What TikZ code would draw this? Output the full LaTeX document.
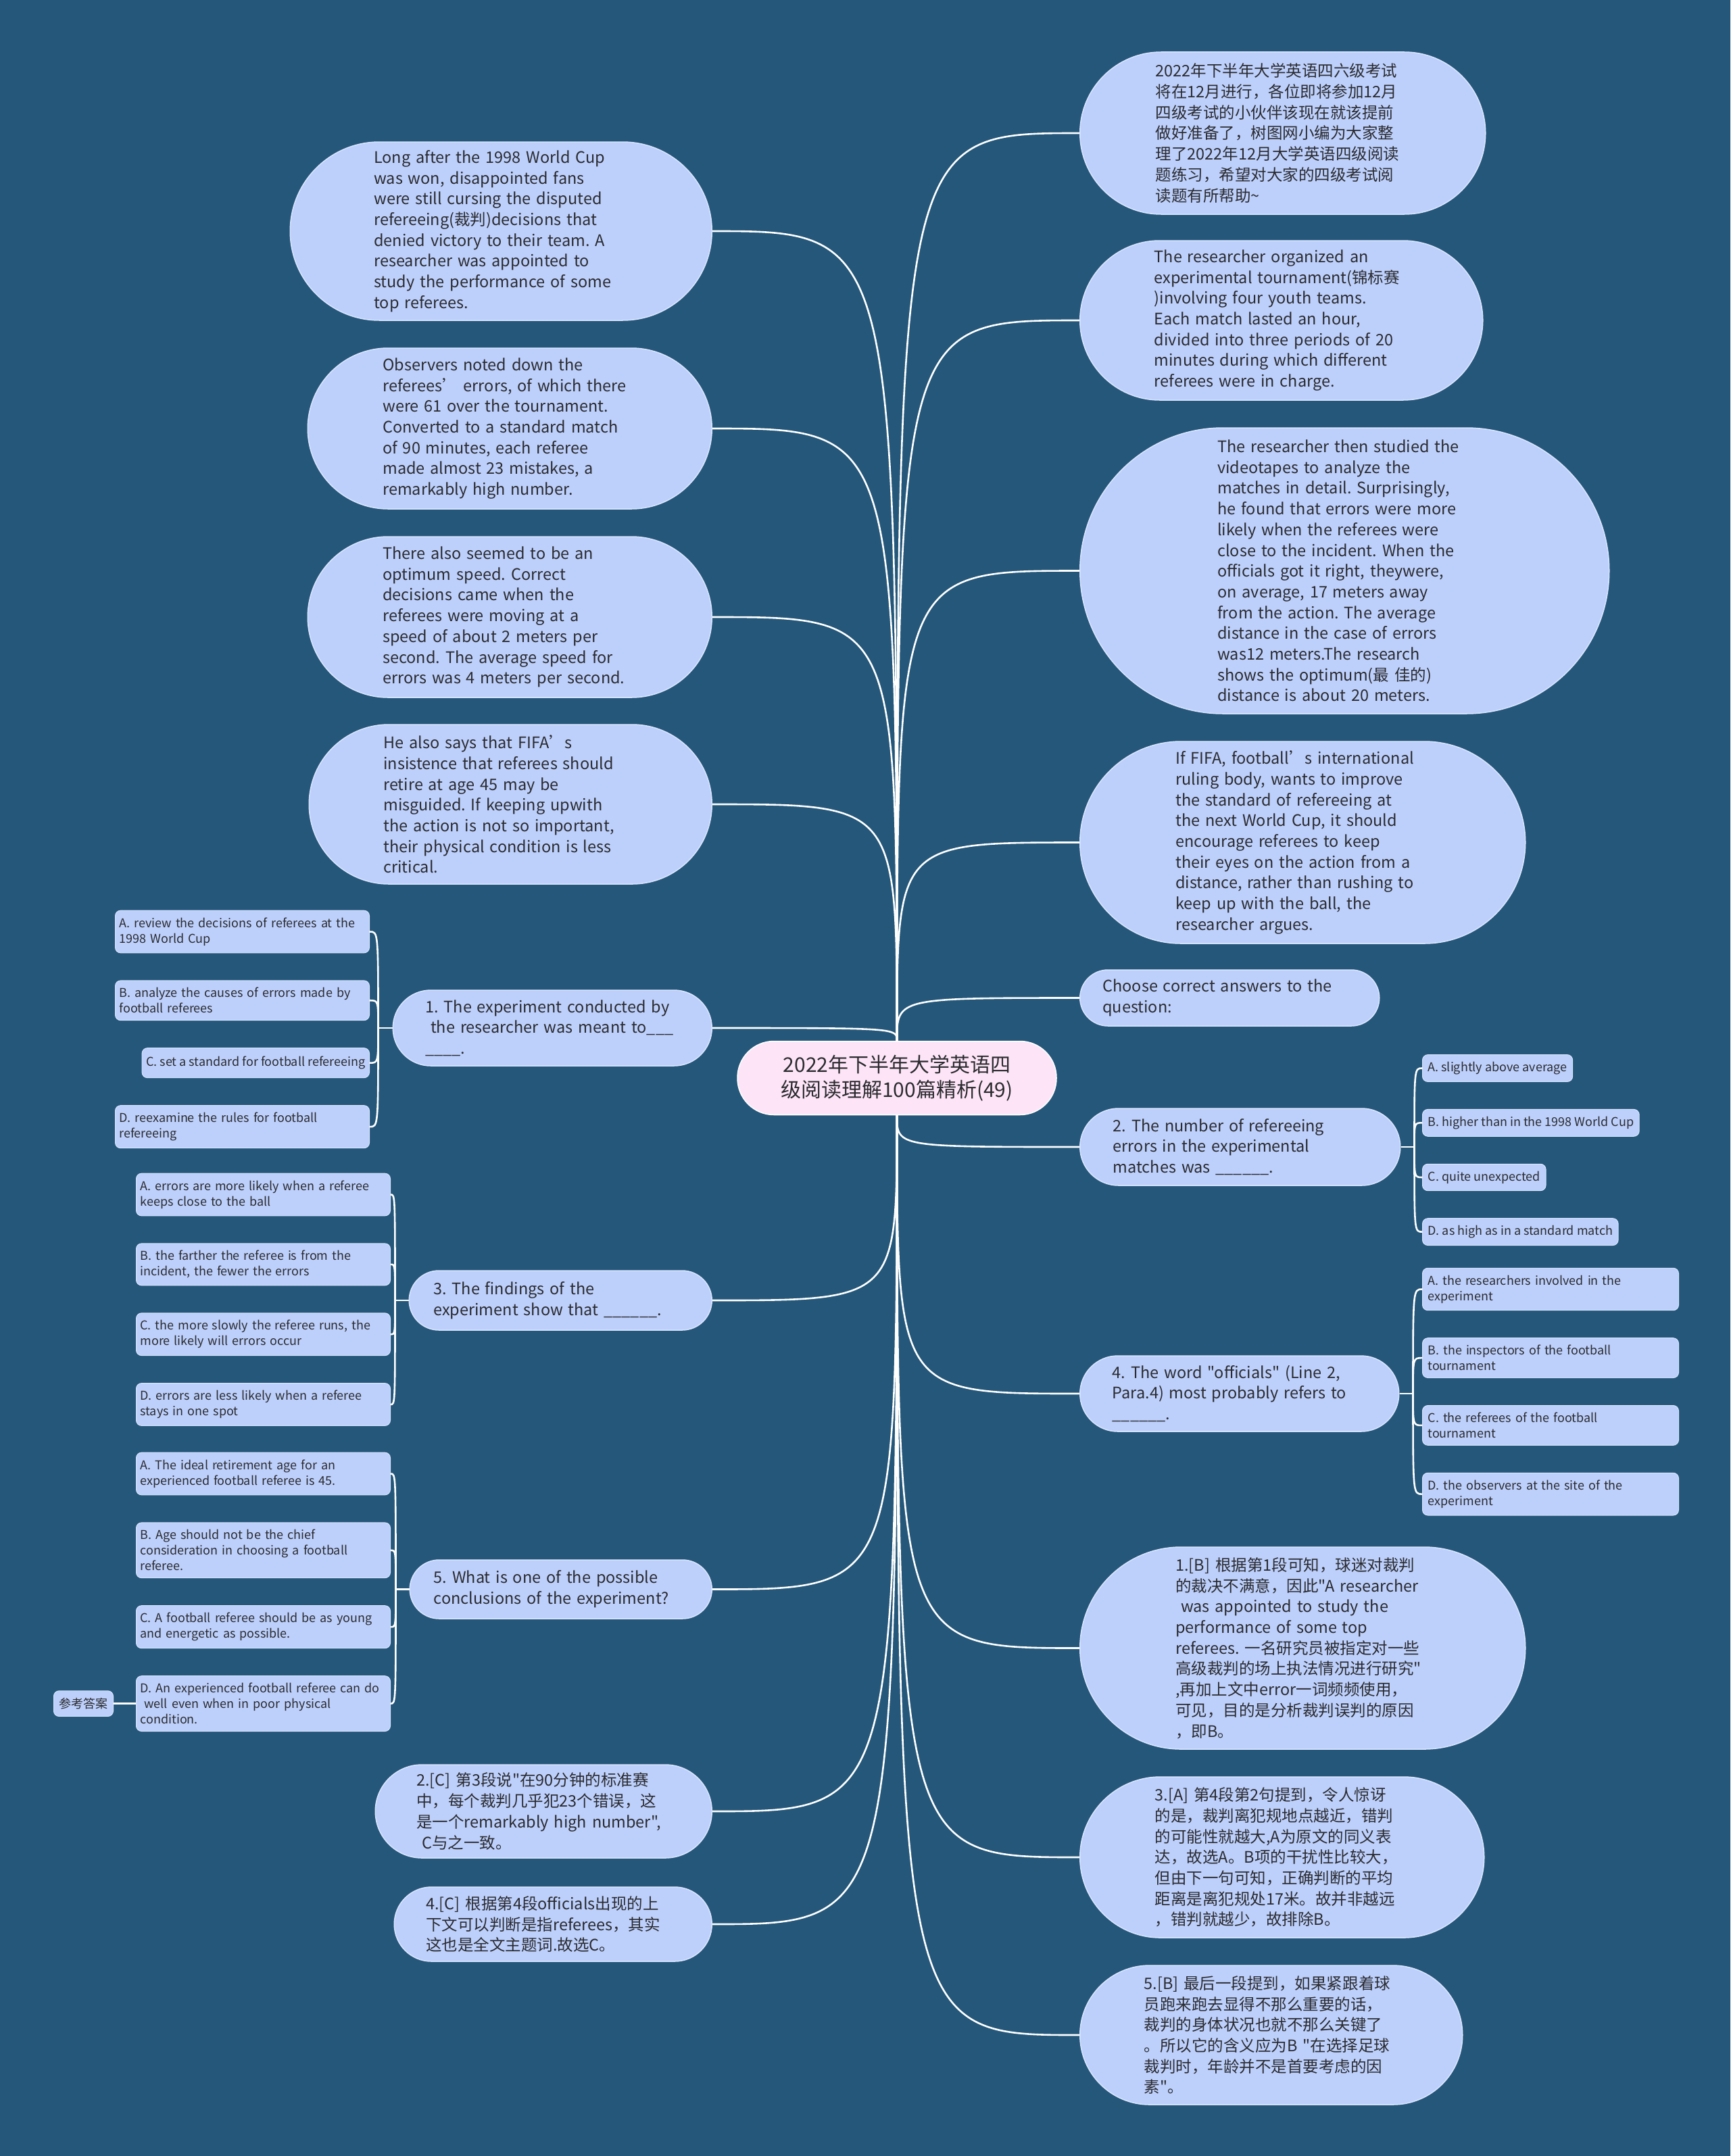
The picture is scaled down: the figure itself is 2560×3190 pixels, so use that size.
\documentclass[tikz,border=0pt]{standalone}
\usepackage{fontspec}
\setmainfont[Ligatures=TeXOff]{Noto Sans CJK SC}
\usetikzlibrary{positioning}
\definecolor{MapBlue}{RGB}{36,87,122}
\definecolor{BubBlue}{RGB}{189,208,251}
\definecolor{RootPink}{RGB}{253,229,247}
\definecolor{InkGray}{RGB}{43,43,48}
\pgfdeclarelayer{backdrop}
\pgfdeclarelayer{wires}
\pgfsetlayers{backdrop,wires,main}
\frenchspacing

\begin{document}
\begin{tikzpicture}[x=1pt,y=-1pt,
node distance=40pt,
root/.style={draw=white,line width=1.5pt,fill=RootPink,rounded corners=54pt,minimum width=472pt,minimum height=109pt,inner sep=0pt,align=center,text=InkGray,font=\fontsize{30pt}{37pt}\selectfont},
bub/.style={draw=white!45!BubBlue,line width=1.5pt,fill=BubBlue,rounded corners=#1,minimum height=2*#1,inner xsep=#1-8,inner ysep=0pt,text width=376pt,align=left,text=InkGray,font=\fontsize{23.5pt}{30.7pt}\selectfont},
opt/.style={draw=white!45!BubBlue,line width=1pt,fill=BubBlue,rounded corners=8pt,inner xsep=6pt,inner ysep=10.5pt,align=left,text=InkGray,font=\fontsize{18pt}{23pt}\selectfont},
link/.style={draw=white,line width=2.6pt}
]
\begin{pgfonlayer}{backdrop}
\fill[MapBlue] (0,0) rectangle (2560,3190);
\end{pgfonlayer}

% centre
\node[root] (root) at (1327,1595) {2022年下半年大学英语四\\级阅读理解100篇精析(49)};

% left side
\node[bub=132,anchor=east] (l1) at (1054,342) {Long after the 1998 World Cup\\was won, disappointed fans\\were still cursing the disputed\\refereeing(裁判)decisions that\\denied victory to their team. A\\researcher was appointed to\\study the performance of some\\top referees.};
\node[bub=119,anchor=east] (l2) at (1054,634) {Observers noted down the\\referees’ errors, of which there\\were 61 over the tournament.\\Converted to a standard match\\of 90 minutes, each referee\\made almost 23 mistakes, a\\remarkably high number.};
\node[bub=119,anchor=east] (l3) at (1054,913) {There also seemed to be an\\optimum speed. Correct\\decisions came when the\\referees were moving at a\\speed of about 2 meters per\\second. The average speed for\\errors was 4 meters per second.};
\node[bub=118,anchor=east] (l4) at (1054,1190) {He also says that FIFA’s\\insistence that referees should\\retire at age 45 may be\\misguided. If keeping upwith\\the action is not so important,\\their physical condition is less\\critical.};
\node[bub=56,anchor=east] (q1) at (1054,1521) {1. The experiment conducted by\\\ the researcher was meant to\_\_\_\\\_\_\_\_.};
\node[bub=44,anchor=east] (q3) at (1054,1924) {3. The findings of the\\experiment show that \_\_\_\_\_\_.};
\node[bub=43.5,anchor=east] (q5) at (1054,2351.5) {5. What is one of the possible\\conclusions of the experiment?};
\node[bub=69,anchor=east] (a2) at (1054,2680) {2.[C] 第3段说"在90分钟的标准赛\\中，每个裁判几乎犯23个错误，这\\是一个remarkably high number",\\\ C与之一致。};
\node[bub=55,anchor=east] (a4) at (1054,2847) {4.[C] 根据第4段officials出现的上\\下文可以判断是指referees，其实\\这也是全文主题词.故选C。};

% right side
\node[bub=120,anchor=west] (r1) at (1597,197) {2022年下半年大学英语四六级考试\\将在12月进行，各位即将参加12月\\四级考试的小伙伴该现在就该提前\\做好准备了，树图网小编为大家整\\理了2022年12月大学英语四级阅读\\题练习，希望对大家的四级考试阅\\读题有所帮助\textasciitilde};
\node[bub=118,anchor=west] (r2) at (1597,474) {The researcher organized an\\experimental tournament(锦标赛\\)involving four youth teams.\\Each match lasted an hour,\\divided into three periods of 20\\minutes during which different\\referees were in charge.};
\node[bub=211.5,anchor=west] (r3) at (1597,844.5) {The researcher then studied the\\videotapes to analyze the\\matches in detail. Surprisingly,\\he found that errors were more\\likely when the referees were\\close to the incident. When the\\officials got it right, theywere,\\on average, 17 meters away\\from the action. The average\\distance in the case of errors\\was12 meters.The research\\shows the optimum(最 佳的)\\distance is about 20 meters.};
\node[bub=149.5,anchor=west] (r4) at (1597,1246.5) {If FIFA, football’s international\\ruling body, wants to improve\\the standard of refereeing at\\the next World Cup, it should\\encourage referees to keep\\their eyes on the action from a\\distance, rather than rushing to\\keep up with the ball, the\\researcher argues.};
\node[bub=41.5,anchor=west] (rc) at (1597,1476.5) {Choose correct answers to the\\question:};
\node[bub=57,anchor=west] (q2) at (1597,1697) {2. The number of refereeing\\errors in the experimental\\matches was \_\_\_\_\_\_.};
\node[bub=56,anchor=west] (q4) at (1597,2062) {4. The word "officials" (Line 2,\\Para.4) most probably refers to\\\_\_\_\_\_\_.};
\node[bub=149.5,anchor=west] (a1) at (1597,2438.5) {1.[B] 根据第1段可知，球迷对裁判\\的裁决不满意，因此"A researcher\\\ was appointed to study the\\performance of some top\\referees. 一名研究员被指定对一些\\高级裁判的场上执法情况进行研究"\\,再加上文中error一词频频使用，\\可见，目的是分析裁判误判的原因\\，即B。};
\node[bub=119,anchor=west] (a3) at (1597,2748) {3.[A] 第4段第2句提到，令人惊讶\\的是，裁判离犯规地点越近，错判\\的可能性就越大,A为原文的同义表\\达，故选A。B项的干扰性比较大，\\但由下一句可知，正确判断的平均\\距离是离犯规处17米。故并非越远\\，错判就越少，故排除B。};
\node[bub=103,anchor=west] (a5) at (1597,3011) {5.[B] 最后一段提到，如果紧跟着球\\员跑来跑去显得不那么重要的话，\\裁判的身体状况也就不那么关键了\\。所以它的含义应为B "在选择足球\\裁判时，年龄并不是首要考虑的因\\素"。};

% options of question 1
\node[opt,text width=364pt,anchor=east] (q1a) at (547,1378.5) {A. review the decisions of referees at the\\1998 World Cup};
\node[opt,text width=364pt,below=of q1a.south east,anchor=north east] (q1b) {B. analyze the causes of errors made by\\football referees};
\node[opt,minimum height=44pt,below=of q1b.south east,anchor=north east] (q1c) {C. set a standard for football refereeing};
\node[opt,text width=364pt,below=of q1c.south east,anchor=north east] (q1d) {D. reexamine the rules for football\\refereeing};

% options of question 3
\node[opt,text width=364pt,anchor=east] (q3a) at (578,1767.5) {A. errors are more likely when a referee\\keeps close to the ball};
\node[opt,text width=364pt,below=of q3a.south east,anchor=north east] (q3b) {B. the farther the referee is from the\\incident, the fewer the errors};
\node[opt,text width=364pt,below=of q3b.south east,anchor=north east] (q3c) {C. the more slowly the referee runs, the\\more likely will errors occur};
\node[opt,text width=364pt,below=of q3c.south east,anchor=north east] (q3d) {D. errors are less likely when a referee\\stays in one spot};

% options of question 5
\node[opt,text width=364pt,anchor=east] (q5a) at (578,2180.5) {A. The ideal retirement age for an\\experienced football referee is 45.};
\node[opt,text width=364pt,below=of q5a.south east,anchor=north east] (q5b) {B. Age should not be the chief\\consideration in choosing a football\\referee.};
\node[opt,text width=364pt,below=of q5b.south east,anchor=north east] (q5c) {C. A football referee should be as young\\and energetic as possible.};
\node[opt,text width=364pt,below=of q5c.south east,anchor=north east] (q5d) {D. An experienced football referee can do\\\ well even when in poor physical\\condition.};
\node[opt,inner xsep=8pt,left=33pt of q5d] (key) {参考答案};

% options of question 2
\node[opt,inner xsep=8pt,anchor=west] (q2a) at (2104,1580.5) {A. slightly above average};
\node[opt,inner xsep=8pt,below=of q2a.south west,anchor=north west] (q2b) {B. higher than in the 1998 World Cup};
\node[opt,inner xsep=8pt,below=of q2b.south west,anchor=north west] (q2c) {C. quite unexpected};
\node[opt,inner xsep=8pt,below=of q2c.south west,anchor=north west] (q2d) {D. as high as in a standard match};

% options of question 4
\node[opt,text width=363pt,inner xsep=8pt,anchor=west] (q4a) at (2104,1907.5) {A. the researchers involved in the\\experiment};
\node[opt,text width=363pt,inner xsep=8pt,below=of q4a.south west,anchor=north west] (q4b) {B. the inspectors of the football\\tournament};
\node[opt,text width=363pt,inner xsep=8pt,below=of q4b.south west,anchor=north west] (q4c) {C. the referees of the football\\tournament};
\node[opt,text width=363pt,inner xsep=8pt,below=of q4c.south west,anchor=north west] (q4d) {D. the observers at the site of the\\experiment};

\coordinate (j1) at ([xshift=-21pt]q1.west);
\coordinate (j3) at ([xshift=-20pt]q3.west);
\coordinate (j5) at ([xshift=-20pt]q5.west);
\coordinate (j2) at ([xshift=20pt]q2.east);
\coordinate (j4) at ([xshift=20pt]q4.east);

\begin{pgfonlayer}{wires}
% branches from the centre
\draw[link] (root) .. controls (root |- l1.east) .. (l1.east); \draw[link] (root) .. controls (root |- l2.east) .. (l2.east);
\draw[link] (root) .. controls (root |- l3.east) .. (l3.east); \draw[link] (root) .. controls (root |- l4.east) .. (l4.east);
\draw[link] (root) .. controls (root |- q1.east) .. (q1.east); \draw[link] (root) .. controls (root |- q3.east) .. (q3.east);
\draw[link] (root) .. controls (root |- q5.east) .. (q5.east); \draw[link] (root) .. controls (root |- a2.east) .. (a2.east);
\draw[link] (root) .. controls (root |- a4.east) .. (a4.east);
\draw[link] (root) .. controls (root |- r1.west) .. (r1.west); \draw[link] (root) .. controls (root |- r2.west) .. (r2.west);
\draw[link] (root) .. controls (root |- r3.west) .. (r3.west); \draw[link] (root) .. controls (root |- r4.west) .. (r4.west);
\draw[link] (root) .. controls (root |- rc.west) .. (rc.west); \draw[link] (root) .. controls (root |- q2.west) .. (q2.west);
\draw[link] (root) .. controls (root |- q4.west) .. (q4.west); \draw[link] (root) .. controls (root |- a1.west) .. (a1.west);
\draw[link] (root) .. controls (root |- a3.west) .. (a3.west); \draw[link] (root) .. controls (root |- a5.west) .. (a5.west);
% brackets to the options
\draw[link] (q1.west) -- (j1);
\draw[link] (j1) .. controls (j1 |- q1a.east) .. (q1a.east); \draw[link] (j1) .. controls (j1 |- q1b.east) .. (q1b.east);
\draw[link] (j1) .. controls (j1 |- q1c.east) .. (q1c.east); \draw[link] (j1) .. controls (j1 |- q1d.east) .. (q1d.east);
\draw[link] (q3.west) -- (j3);
\draw[link] (j3) .. controls (j3 |- q3a.east) .. (q3a.east); \draw[link] (j3) .. controls (j3 |- q3b.east) .. (q3b.east);
\draw[link] (j3) .. controls (j3 |- q3c.east) .. (q3c.east); \draw[link] (j3) .. controls (j3 |- q3d.east) .. (q3d.east);
\draw[link] (q5.west) -- (j5);
\draw[link] (j5) .. controls (j5 |- q5a.east) .. (q5a.east); \draw[link] (j5) .. controls (j5 |- q5b.east) .. (q5b.east);
\draw[link] (j5) .. controls (j5 |- q5c.east) .. (q5c.east); \draw[link] (j5) .. controls (j5 |- q5d.east) .. (q5d.east);
\draw[link] (q5d) -- (key);
\draw[link] (q2.east) -- (j2);
\draw[link] (j2) .. controls (j2 |- q2a.west) .. (q2a.west); \draw[link] (j2) .. controls (j2 |- q2b.west) .. (q2b.west);
\draw[link] (j2) .. controls (j2 |- q2c.west) .. (q2c.west); \draw[link] (j2) .. controls (j2 |- q2d.west) .. (q2d.west);
\draw[link] (q4.east) -- (j4);
\draw[link] (j4) .. controls (j4 |- q4a.west) .. (q4a.west); \draw[link] (j4) .. controls (j4 |- q4b.west) .. (q4b.west);
\draw[link] (j4) .. controls (j4 |- q4c.west) .. (q4c.west); \draw[link] (j4) .. controls (j4 |- q4d.west) .. (q4d.west);
\end{pgfonlayer}
\end{tikzpicture}
\end{document}
